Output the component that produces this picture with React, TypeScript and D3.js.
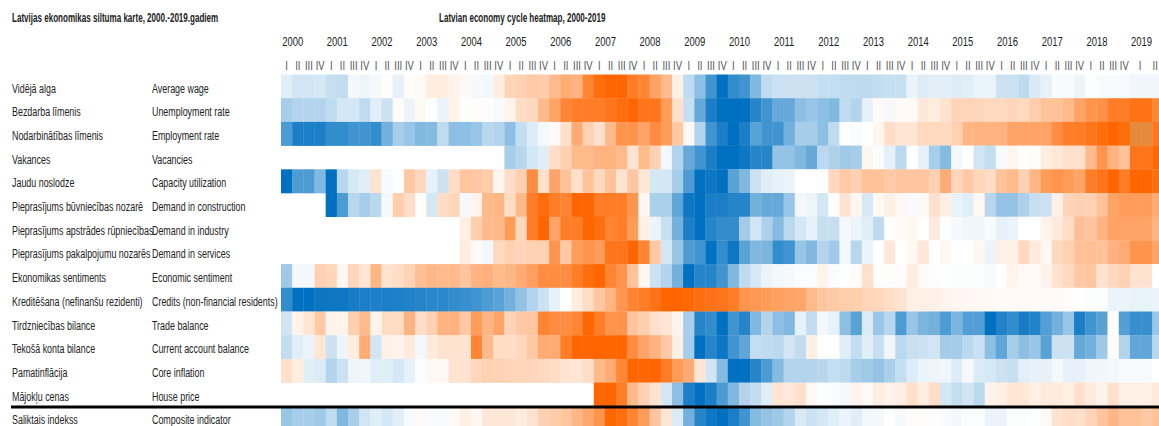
import React from "react";
import * as d3 from "d3";

const gap = (n: number) => Array(n).fill(null);

// one value per quarter from 2000 Q1, -10 = deepest blue, +10 = deepest orange
const averageWage = [-1.2, -1.8, -1.8, -1.6, -2.2, -2.4, -0.5, -0.7, -0.4, 0.1, -1, 0.2, 0.3, 1.2, 1.2, 0.8, 0.4, -0.4, -0.5, 1.2, 2.8, 3, 3.5, 3.3, 4.5, 5.5, 5, 8, 9.5, 10, 10, 8.5, 8, 6, 4.5, 1, -2.5, -4.5, -7.5, -10, -8, -7.5, -5, -2.5, -2, -2, -2, -2, -2.3, -2.3, -2.5, -2.5, -2.6, -2.4, -2.2, -2.2, -0.8, -1.3, -1.1, -1.1, -1.3, -1.2, -0.8, -0.8, -2, -2, -2.6, -1.5, -1, -0.3, -0.3, -0.7, -0.1, -0.3, -0.3, -0.3, -0.6, -0.6, -0.6];
const unemployment = [-3.5, -3, -3, -3, -2.5, -1.7, -1.7, -2.5, -1.1, -2, 0.2, -0.7, 0.4, -0.1, -0.8, 0.8, -0.1, 0.2, -0.1, -0.3, 0.7, 2.3, 2.5, 4.5, 6, 8, 8.5, 8.5, 8.5, 9, 9.5, 10, 9, 9, 6.5, 2, -2.2, -6, -9, -10, -10, -10, -8.5, -7.5, -6, -6, -4.5, -4, -4.5, -5, -2.5, -3, -1, 0.3, -0.4, 0.3, 0.3, 1.5, 1.2, 1.8, 2.8, 2.8, 2.7, 2.5, 2.5, 2.8, 2.5, 3.3, 4, 4, 4.5, 6, 7, 7.2, 8.5, 8.5, 9.2, 9.2, 8];
const employment = [-7, -9, -9, -9, -8, -8, -7.5, -7.5, -8, -5.5, -3.5, -4, -5, -4.8, -2.5, -4.5, -4.5, -4, -2.8, -3, -4.5, -2.3, -1.3, -0.4, 0.3, 2, 5.5, 3, 2, 4.5, 7, 7, 6, 7.5, 6.5, 3.5, 0.4, -3, -7.5, -9, -10, -9, -6.5, -7.5, -7.5, -5.5, -3.5, -3.5, -4.5, -2.5, 0, -0.2, 0, 0.6, 2.2, 1.7, 1.7, 2.5, 2.5, 2.5, 3, 4.8, 5, 5, 5, 6, 6, 6, 6, 7.5, 8.5, 8.5, 9, 9.5, 10, 9.5, 7, 7, 9];
const vacancies = [...gap(20), -3.5, -2.8, -1.7, -1.2, 2.2, 3, 4.5, 4.5, 5, 5, 4.5, 1.8, 4.5, 3, -0.5, -3, -6, -7.5, -9, -10, -10, -9.5, -8.5, -8.5, -4.2, -4.2, -5, -6, -2.7, -3.2, -3.8, -3.5, 0.6, -0.2, -1, -2.7, 0, -1, -3.5, -4.8, -0.5, 0, -1.8, -2.3, -0.3, 0.6, 0, 0.2, 1.2, 1.5, 2, 2, 4.5, 7, 5, 4, 9, 9, 10];
const capacity = [-10, -7, -7, -5, -10, -2.8, -1.6, -1.2, 1.8, -0.3, 0, 3.5, 2.5, -1, -2, 2.2, 3.8, 3.5, 3.3, 0.6, 2.2, 3, 7.5, 2, 6, 4, 2, 4, 2.5, 4, 1.8, 3.7, 1.6, -1.7, -1.7, -3.5, -7, -10, -9.5, -10, -6.5, -5, -2, -1.2, -1, -0.8, 0, 0, 0, 2.5, 3.5, 3, 4, 4, 3.5, 3.7, 3.7, 3.7, 3, 5.5, 2.7, 3.5, 2.7, 2.3, 4, 4.5, 3, 4.8, 6.5, 7, 6.5, 6, 8.5, 9, 10, 8.5, 10, 10, 9.5];
const construction = [...gap(4), -10, -7, -2.8, -3.5, -2.7, -0.4, 3.2, 2.2, 0.1, -1.7, 2.3, 2.7, -0.4, 0.8, 4.5, 4.8, 2.3, 4.5, 8.5, 9.5, 8.5, 8, 10, 10, 8.5, 8.5, 8.5, 7, 0.5, -3.3, -3.3, -6.3, -9.5, -10, -9, -9, -8.5, -8.5, -5.5, -6, -6, -4, -0.5, -0.7, -1.7, 0.1, 1.8, 0.6, -1.6, 0.4, 1, 0.5, -0.3, 0.4, 2, 1.1, -0.9, -1.2, 0.5, -2.8, -4.2, -4.2, -3.2, -2.2, -2, 0.9, 2.8, 3, 3, 4, 6, 6.5, 6.5, 6.5, 5.5];
const industry = [...gap(16), 1, 3.2, 4.5, 4.5, 6.5, 2.5, 8.5, 10, 6, 8.5, 8.5, 10, 9.5, 8, 8.5, 6.5, 1, -0.8, -2.2, -5.5, -9, -10, -8.5, -8, -8, -3.6, -1.8, -3.2, -4.8, -2.7, -1.6, -1, -2.2, -2.2, -0.4, -0.8, -1.2, -2.5, 0, 0.3, 0.6, 0, 1.3, 0, -0.4, -0.6, -0.6, -0.3, -1, -0.8, 0, 0, 0.8, 1.4, 2.2, 4.2, 3.8, 5, 6, 6, 6, 6, 5];
const services = [...gap(16), 1.2, 0.3, -0.5, 2.5, 3, 2.8, 3, 3, 7, 3.5, 6.5, 7, 6.5, 9, 9, 10, 8, 3.5, -1.7, -4, -7, -7.5, -10, -8, -9.5, -6.5, -5, -5.2, -8, -7.5, -4, -5, -3, -3.7, -0.5, -2.8, -0.8, 0, 1.5, 0, 0.5, 1.5, 0, 0.5, 0, 0, 0.5, -0.8, 1, 1, 2.5, 1.4, 0.5, 2.5, 3, 4, 4.2, 4, 5, 5.5, 7, 7, 6];
const sentiment = [-3.8, -0.5, -0.5, 3, 2.7, 0.5, 2.7, 1.7, 4.8, 1.8, 2.2, 2.9, 4.2, 4.7, 4.5, 4.5, 3.8, 5, 5.2, 4.5, 4.8, 5.5, 6.3, 7.5, 7.5, 7.5, 8.5, 9.5, 10, 8, 7, 4, 0.5, -2, -3, -5.5, -10, -8.5, -8.5, -7.5, -5, -2.5, -1.6, -0.8, -0.5, -0.4, -0.2, -0.2, 0.7, -0.2, 0, 0.2, 2, 0.2, -0.1, 0.2, 1.2, 0.3, -0.1, 0, -0.1, -0.1, -0.2, -0.3, 0, 0.8, 0.4, 0.3, 0.8, 1.8, 2.5, 3.5, 3.8, 1.8, 2.5, 3, 1.8, 1.8, 0];
const credits = [-8, -10, -10, -9.7, -9.5, -9.5, -9.2, -9, -9, -9, -8.8, -8.7, -8.5, -8.4, -8.3, -8, -7.8, -7.5, -7, -6.5, -5.5, -4.3, -3, -2, -1, 0, 1.2, 2.3, 3.7, 4.8, 6.8, 8, 8.5, 9.2, 10, 10, 9.8, 9.5, 9.3, 9, 8.5, 7, 6.8, 6.5, 6.2, 6, 5.8, 4.5, 3.7, 3.5, 3.3, 3.2, 2.8, 2.6, 2.2, 1.8, 1, 1, 0.9, 0.7, 0.6, 0.5, 0.5, 0.4, 0.3, 0.3, 0.3, 0.3, 0.3, 0.3, 0.1, 0, -0.1, -0.1, -0.8, -0.8, -0.9, -0.9, -0.8];
const tradeBalance = [-1.8, 0.8, 1.7, 3.5, 0.7, 0.8, 3, 4.5, 0.8, 2.3, 2.3, 5, 2.2, 3, 5, 5, 3.5, 6.5, 4.8, 6, 2.8, 3.5, 3.7, 8, 7.5, 7.5, 8, 10, 8.5, 7, 7, 3.8, 3.2, 2, 1.7, 0.8, -3.5, -8.5, -8, -10, -7.5, -8.5, -5, -3, -4.5, -5, -1, -2.4, -0.5, -1, -4.5, -6.5, -1.4, -4, -2.8, -7, -4, -5.2, -5.5, -7, -5.2, -6.8, -6.8, -10, -8.7, -8, -9.2, -8.7, -6.8, -5.5, -4, -9, -7.5, -6.5, 0, -6.8, -7.8, -7.8, -4];
const currentAccount = [-2.4, -1.2, -0.8, 1.7, -2, -0.7, 1.2, 5.5, -1.8, 0.9, 0.7, 1.3, -0.5, 1.3, 1.8, 1.8, 1.8, 8, 4.5, 2.2, 2.2, 2.5, 3.5, 5.5, 5.5, 8.5, 10, 10, 10, 10, 10, 7.5, 6, 5, 3.5, 1, -3.5, -10, -8.5, -9.5, -7.5, -6.3, -2.3, -2.5, -2.7, -1.8, -2.4, 1, 0, 0, -1.2, -2.4, -1.2, -2.2, -0.6, -2.7, -2.2, -2, -1.8, -3.6, -3.6, -2.7, -2.1, -4.5, -6.3, -3.5, -4.5, -4, -6.5, -2, -2, -6, -5.5, -3.8, 0.2, -3, -6.2, -6.2, -2.8];
const coreInflation = [2, 1.2, -1.2, -1.4, -3, -2, -0.7, -0.6, -1.2, -1.2, -1.6, -1, -0.2, 0.5, 0.5, 1.8, 1.8, 2.6, 3, 3, 2.8, 2.7, 2.7, 2.5, 2.2, 1.8, 1.7, 2.2, 4.5, 5.5, 7.8, 10, 10, 10, 8.5, 6.5, 5.5, 1.7, -1.8, -4.8, -10, -10, -8.5, -7, -4.8, -3, -3, -3, -2.8, -2.3, -2.6, -3.5, -3.8, -4.2, -3.3, -2.3, -1.3, -0.8, -0.7, -0.6, -1.3, -0.4, -1.4, -1.6, -2, -2.2, -1.1, -1, -1, -0.5, -1, -1, -0.6, -0.6, -0.5, -0.3, -0.3, -0.3, 0];
const housePrice = [...gap(28), 10, 10, 8.5, 4.5, 3, 1.8, -1.7, -4.5, -9, -10, -9, -7, -5, -3, -2.4, -1.2, 1.7, 1.5, 2, 0.4, -0.1, -0.2, -0.4, 0.7, 0.3, 1.2, 0.8, 1.1, 2, 1.2, 2.2, -1.7, -2.3, -1.8, -2.7, 0.7, 1, 1.6, 1.6, 1, 1.3, 1.3, 1, 2, 1.3, 0.8, 2, 1, 1, 1, 1.5];
const composite = [-4, -3.5, -3.5, -3.8, -2.5, -5, -3.4, -1.8, -1.2, -1.7, -1.2, -0.3, 0.3, -0.3, -0.3, 0.3, 1, 0.5, 1.5, 1.6, 1.6, 1.2, 1.8, 3, 3.4, 3.8, 4.8, 5.7, 7, 10, 9.5, 8, 6.5, 3.8, 1.7, -1.4, -5.5, -8.5, -9.5, -10, -9, -7.5, -4.8, -4.2, -3.8, -3, -1.5, -2, -1.7, -1.2, -0.8, -1.2, -0.5, -0.5, 0, -0.4, 0.1, 0.1, 0.1, -0.3, -0.5, -0.2, -0.2, -0.8, -0.8, -0.1, -0.1, 0, 0.4, 1.8, 2.2, 2, 2.8, 3.8, 4.8, 4, 4, 3.5, 4];

const latvianLabels = ["Vidējā alga", "Bezdarba līmenis", "Nodarbinātības līmenis", "Vakances", "Jaudu noslodze", "Pieprasījums būvniecības nozarē", "Pieprasījums apstrādes rūpniecības", "Pieprasījums pakalpojumu nozarēs", "Ekonomikas sentiments", "Kreditēšana (nefinanšu rezidenti)", "Tirdzniecības bilance", "Tekošā konta bilance", "Pamatinflācija", "Mājokļu cenas", "Saliktais indekss"];
const englishLabels = ["Average wage", "Unemployment rate", "Employment rate", "Vacancies", "Capacity utilization", "Demand in construction", "Demand in industry", "Demand in services", "Economic sentiment", "Credits (non-financial residents)", "Trade balance", "Current account balance", "Core inflation", "House price", "Composite indicator"];
const rows = [averageWage, unemployment, employment, vacancies, capacity, construction, industry, services, sentiment, credits, tradeBalance, currentAccount, coreInflation, housePrice, composite];

const years = d3.range(2000, 2020);
const quarters = ["I", "II", "III", "IV"];
// the two quarter marks of 2019 sit a bit wider than the rest in the original
const lastYearQuarters = ["I", "II"];
const lastYearNudge = [4.5, 8.5];
// these two cells are a duller orange in the original
const shadedEmployment = [76, 77];

const WIDTH = 1159;
const HEIGHT = 426;
const FONT = "'Liberation Sans', sans-serif";

// no narrow font is installed, so squeeze the text horizontally like the original's Calibri
const Label = ({ x, y, squeeze = 0.66, children, ...rest }: any) => (
  <text transform={`translate(${x},${y}) scale(${squeeze},1)`} {...rest}>
    {children}
  </text>
);

export default function App() {
  const columns = d3.range(79);
  const x = d3.scaleBand<number>().domain(columns).range([281, 281 + 79 * 11.17]);
  const y = d3.scaleBand<number>().domain(d3.range(15)).range([74.5, 74.5 + 15 * 23.7]);
  const color = d3.scaleLinear<string>().domain([-10, 0, 10]).range(["#0070C0", "#FFFFFF", "#FF6600"]);

  return (
    <svg
      width={WIDTH}
      height={HEIGHT}
      style={{ position: "absolute", left: 0, top: 0, background: "#fff" }}
      fontFamily={FONT}
      fontSize={13.5}
      fill="#222"
    >
      <defs>
        <filter id="soft" x="-1%" y="-1%" width="102%" height="102%">
          <feGaussianBlur stdDeviation={0.4} />
        </filter>
      </defs>

      <g filter="url(#soft)">
        {rows.map((values, r) =>
          values.map((v, c) =>
            v === null ? null : (
              <rect
                key={`${r}-${c}`}
                x={x(c)}
                y={y(r)}
                width={x.bandwidth() + 0.3}
                height={y.bandwidth() + 0.3}
                fill={r === 2 && shadedEmployment.includes(c) ? "#E58A3E" : color(v)}
              />
            )
          )
        )}
      </g>

      <Label x={12} y={22} squeeze={0.645} fontWeight="bold" fontSize={12.5}>Latvijas ekonomikas siltuma karte, 2000.-2019.gadiem</Label>
      <Label x={439} y={22} squeeze={0.645} fontWeight="bold" fontSize={12.5}>Latvian economy cycle heatmap, 2000-2019</Label>

      {years.map((year, i) => (
        <Label key={year} x={x(i * 4 + 1)! + 0.5} y={46} squeeze={0.7} textAnchor="middle">{year}</Label>
      ))}
      {years.map((year, i) =>
        (year === 2019 ? lastYearQuarters : quarters).map((q, j) => (
          <Label
            key={`${year}-${q}`}
            x={x(i * 4 + j)! + x.bandwidth() / 2 + (year === 2019 ? lastYearNudge[j] : 0)}
            y={70}
            squeeze={0.7}
            textAnchor="middle"
            fill="#555"
          >
            {q}
          </Label>
        ))
      )}

      {latvianLabels.map((label, r) => (
        <Label key={label} x={12} y={y(r)! + 18}>{label}</Label>
      ))}
      {englishLabels.map((label, r) => (
        <Label key={label} x={152} y={y(r)! + 18}>{label}</Label>
      ))}

      <line x1={11} x2={WIDTH} y1={y(14)! + 0.6} y2={y(14)! + 0.6} stroke="#000" strokeWidth={3} />
    </svg>
  );
}
